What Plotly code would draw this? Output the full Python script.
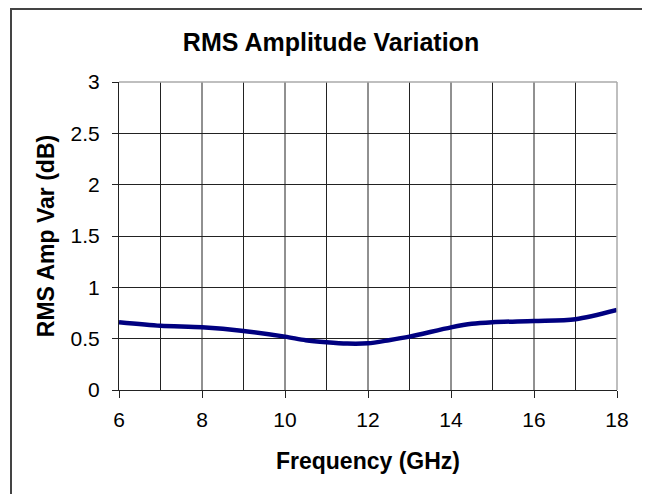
import plotly.graph_objects as go

freq_ghz = [6, 7, 8, 9, 10, 10.5, 11, 11.5, 12, 12.5, 13, 14, 14.5, 15, 16, 17, 18]
rms_amp_var_db = [0.66, 0.625, 0.61, 0.575, 0.52, 0.485, 0.465, 0.452, 0.455, 0.485, 0.52, 0.61, 0.645, 0.66, 0.673, 0.69, 0.78]

x_ticks = [6, 8, 10, 12, 14, 16, 18]
y_ticks = [0, 0.5, 1, 1.5, 2, 2.5, 3]

# page is offset by the browser's 8px body margin; figure is sized to fit
W, H = 642, 486
L, R, T, B = 111, 609, 74, 382
pw, ph = R - L, B - T

fig = go.Figure()
fig.add_trace(go.Scatter(
    x=freq_ghz, y=rms_amp_var_db, mode="lines",
    line=dict(color="#000080", width=4.5, shape="spline", smoothing=0.8),
    showlegend=False, hoverinfo="skip",
))

font_family = "Liberation Sans, Arial, sans-serif"

fig.update_layout(
    width=W, height=H,
    margin=dict(l=L, r=W - R, t=T, b=H - B, pad=0),
    paper_bgcolor="white", plot_bgcolor="white",
    font=dict(family=font_family, color="black", size=22),
    title=dict(text="<b>RMS Amplitude Variation</b>", x=323 / W, xanchor="center",
               y=1 - 34 / H, yanchor="middle", font=dict(size=25, family=font_family, color="black")),
    xaxis=dict(
        range=[6, 18], tickvals=x_ticks, ticktext=[str(v) for v in x_ticks],
        showgrid=False, zeroline=False,
        ticks="outside", ticklen=7, tickcolor="#222", tickwidth=1,
        showline=True, linecolor="#222", linewidth=1,
        tickfont=dict(size=21), ticklabelstandoff=4,
        title=dict(text="<b>Frequency (GHz)</b>", font=dict(size=23), standoff=22),
    ),
    yaxis=dict(
        range=[0, 3], tickvals=y_ticks, ticktext=["0", "0.5", "1", "1.5", "2", "2.5", "3"],
        showgrid=True, gridcolor="#222", gridwidth=1, zeroline=False,
        ticks="outside", ticklen=6, tickcolor="#222", tickwidth=1,
        showline=True, linecolor="#222", linewidth=1,
        tickfont=dict(size=21), ticklabelstandoff=8,
        title=dict(text="<b>RMS Amp Var (dB)</b>", font=dict(size=23), standoff=9),
    ),
)

shapes = []
for g in range(7, 18):
    shapes.append(dict(type="line", xref="x", yref="paper", x0=g, x1=g, y0=0, y1=1,
                       line=dict(color="#222", width=1), layer="below"))
shapes.append(dict(type="line", xref="paper", yref="paper", x0=0, x1=1, y0=1, y1=1,
                   line=dict(color="#aaaaaa", width=1.5)))
shapes.append(dict(type="line", xref="paper", yref="paper", x0=1, x1=1, y0=0, y1=1,
                   line=dict(color="#aaaaaa", width=1.5)))
shapes.append(dict(type="rect", xref="paper", yref="paper",
                   x0=(3 - L) / pw, x1=(640 - L) / pw,
                   y0=(B - 520) / ph, y1=(B - 1) / ph,
                   line=dict(color="#444", width=2), fillcolor="rgba(0,0,0,0)"))
fig.update_layout(shapes=shapes)

fig.write_html("out.html")
